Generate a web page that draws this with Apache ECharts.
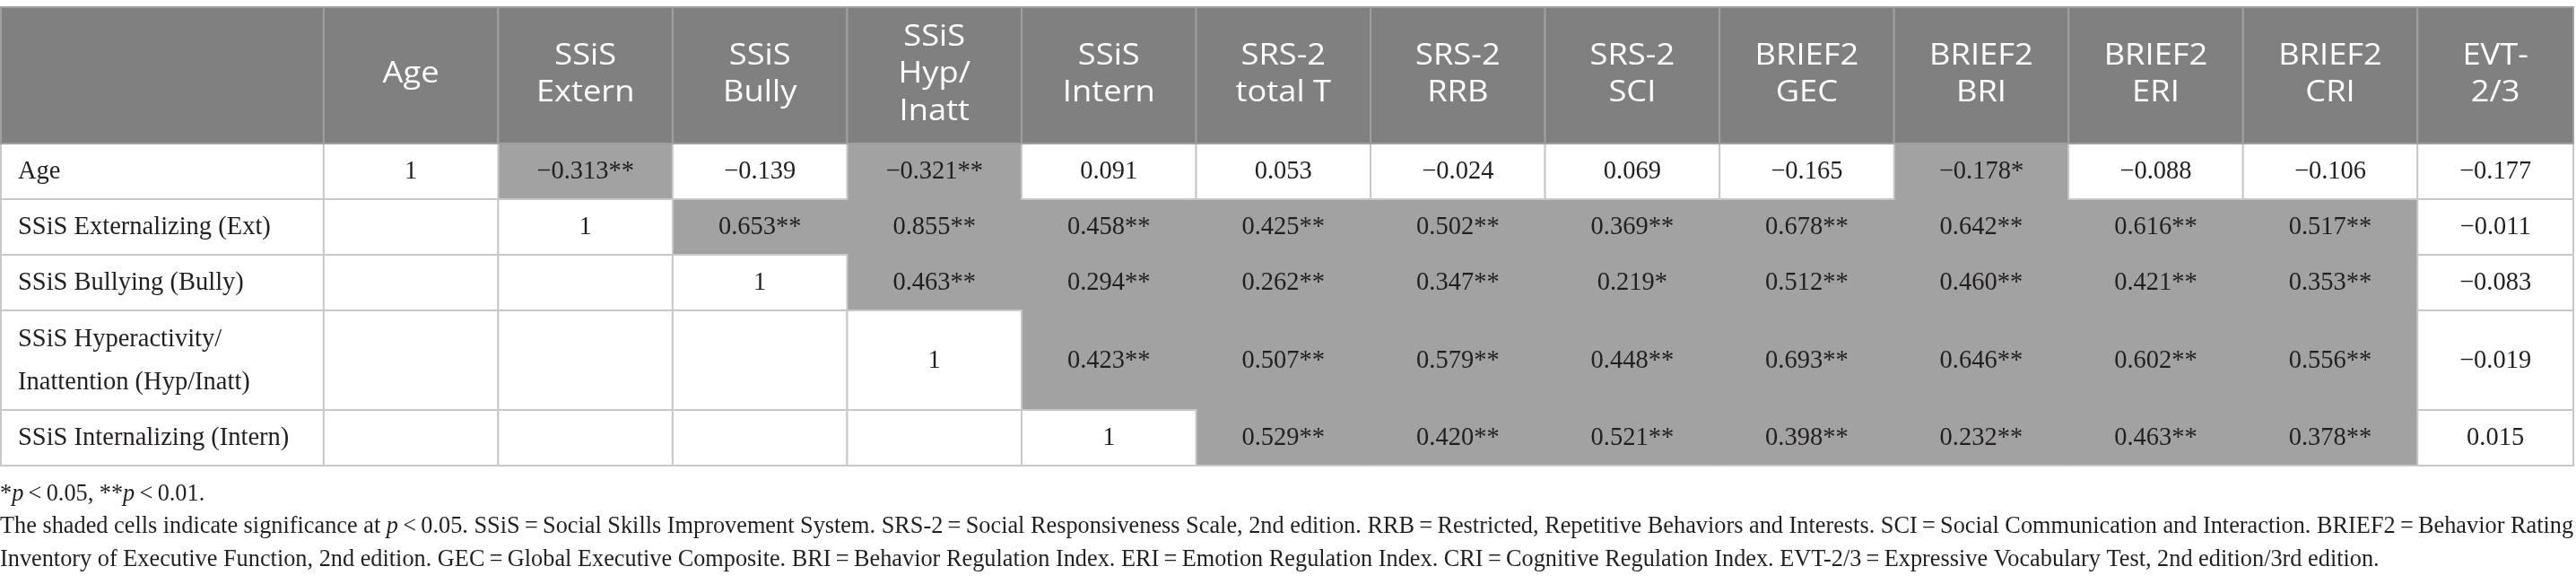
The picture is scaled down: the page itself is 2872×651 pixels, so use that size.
<!DOCTYPE html>
<html>
<head>
<meta charset="utf-8">
<script src="https://cdn.jsdelivr.net/npm/echarts@6/dist/echarts.min.js"></script>
<style>
html,body{margin:0;padding:0;background:#fff;}
#chart{width:2872px;height:651px;}
</style>
</head>
<body>
<div id="chart"></div>
<script>
// ---------- DATA ----------
const columnHeaders = ['Age', 'SSiS\nExtern', 'SSiS\nBully', 'SSiS\nHyp/\nInatt', 'SSiS\nIntern',
  'SRS-2\ntotal T', 'SRS-2\nRRB', 'SRS-2\nSCI', 'BRIEF2\nGEC', 'BRIEF2\nBRI', 'BRIEF2\nERI', 'BRIEF2\nCRI', 'EVT-\n2/3'];
const rowLabels = ['Age', 'SSiS Externalizing (Ext)', 'SSiS Bullying (Bully)',
  'SSiS Hyperactivity/\nInattention (Hyp/Inatt)', 'SSiS Internalizing (Intern)'];

const rAge    = [1, -0.313, -0.139, -0.321, 0.091, 0.053, -0.024, 0.069, -0.165, -0.178, -0.088, -0.106, -0.177];
const sigAge  = [0, 2, 0, 2, 0, 0, 0, 0, 0, 1, 0, 0, 0];
const rExt    = [null, 1, 0.653, 0.855, 0.458, 0.425, 0.502, 0.369, 0.678, 0.642, 0.616, 0.517, -0.011];
const sigExt  = [0, 0, 2, 2, 2, 2, 2, 2, 2, 2, 2, 2, 0];
const rBully  = [null, null, 1, 0.463, 0.294, 0.262, 0.347, 0.219, 0.512, 0.460, 0.421, 0.353, -0.083];
const sigBully= [0, 0, 0, 2, 2, 2, 2, 1, 2, 2, 2, 2, 0];
const rHyp    = [null, null, null, 1, 0.423, 0.507, 0.579, 0.448, 0.693, 0.646, 0.602, 0.556, -0.019];
const sigHyp  = [0, 0, 0, 0, 2, 2, 2, 2, 2, 2, 2, 2, 0];
const rIntern = [null, null, null, null, 1, 0.529, 0.420, 0.521, 0.398, 0.232, 0.463, 0.378, 0.015];
const sigIntern=[0, 0, 0, 0, 0, 2, 2, 2, 2, 2, 2, 2, 0];

const footnotes = [
  '{n|*}{i|p}{n|\u2009<\u20090.05, **}{i|p}{n|\u2009<\u20090.01.}',
  '{n|The shaded cells indicate significance at }{i|p}{n|\u2009<\u20090.05. SSiS\u2009=\u2009Social Skills Improvement System. SRS-2\u2009=\u2009Social Responsiveness Scale, 2nd edition. RRB\u2009=\u2009Restricted, Repetitive Behaviors and Interests. SCI\u2009=\u2009Social Communication and Interaction. BRIEF2\u2009=\u2009Behavior Rating}',
  '{n|Inventory of Executive Function, 2nd edition. GEC\u2009=\u2009Global Executive Composite. BRI\u2009=\u2009Behavior Regulation Index. ERI\u2009=\u2009Emotion Regulation Index. CRI\u2009=\u2009Cognitive Regulation Index. EVT-2/3\u2009=\u2009Expressive Vocabulary Test, 2nd edition/3rd edition.}'
];

// ---------- LAYOUT (sizes / styles) ----------
const colW = [360, 194.6, 194.6, 194.6, 194.6, 194.6, 194.6, 194.6, 194.6, 194.6, 194.6, 194.6, 194.6, 173.8];
const rowH = [152, 62, 62, 62, 111, 62];
const colX = [0]; colW.forEach(w => colX.push(colX[colX.length - 1] + w));
const rowY = [0]; rowH.forEach(h => rowY.push(rowY[rowY.length - 1] + h));
const totalW = colX[colX.length - 1];
const totalH = rowY[rowY.length - 1];

const HEADER_BG = '#7f807f', SHADE_BG = '#a1a2a1', LINE = '#c8c8c8', HEADER_LINE = '#9f9f9f';
const SERIF = '"Liberation Serif", "DejaVu Serif", serif';
const SANS = '"Open Sans", "Noto Sans", sans-serif';
const TEXT = '#231f20';
const CELL_FS = 28.5, NOTE_FS = 26.3, HEAD_FS = 33;

// ---------- BUILD CELLS ----------
const valueRows = [rAge, rExt, rBully, rHyp, rIntern];
const sigRows = [sigAge, sigExt, sigBully, sigHyp, sigIntern];
function fmt(v, s) {
  if (v === null || v === undefined) return '';
  if (v === 1) return '1';
  const t = (v < 0 ? '\u2212' : '') + Math.abs(v).toFixed(3);
  return t + '*'.repeat(s);
}

const headerCells = [], whiteCells = [], shadedCells = [];
headerCells.push({ value: [0, 0], text: '' });
columnHeaders.forEach((h, i) => headerCells.push({ value: [i + 1, 0], text: h }));
rowLabels.forEach((lab, r) => {
  whiteCells.push({ value: [0, r + 1], text: lab, kind: 'label' });
  valueRows[r].forEach((v, c) => {
    const cell = { value: [c + 1, r + 1], text: fmt(v, sigRows[r][c]), kind: 'num' };
    if (sigRows[r][c] > 0) shadedCells.push(cell); else whiteCells.push(cell);
  });
});

function rectOf(api, c, r) {
  const p0 = api.coord([colX[c], rowY[r]]);
  const p1 = api.coord([colX[c + 1], rowY[r + 1]]);
  return { x: p0[0], y: p0[1], width: p1[0] - p0[0], height: p1[1] - p0[1] };
}

function makeRender(cells, mode) {
  return function (params, api) {
    const cell = cells[params.dataIndex];
    const c = api.value(0), r = api.value(1);
    const rc = rectOf(api, c, r);
    let rectStyle, textEl;
    if (mode === 'header') {
      rectStyle = { fill: HEADER_BG, stroke: HEADER_LINE, lineWidth: 2 };
      textEl = {
        type: 'text',
        x: rc.x + rc.width / 2, y: rc.y + rc.height / 2 - 1,
        scaleX: 1.1,
        style: {
          text: cell.text, x: 0, y: 0,
          align: 'center', verticalAlign: 'middle',
          fontFamily: SANS, fontSize: HEAD_FS, lineHeight: 41.5, fill: '#ffffff'
        }
      };
    } else {
      rectStyle = mode === 'shaded'
        ? { fill: SHADE_BG, stroke: null, lineWidth: 0 }
        : { fill: '#ffffff', stroke: LINE, lineWidth: 2 };
      const isLabel = cell.kind === 'label';
      textEl = {
        type: 'text',
        style: {
          text: cell.text,
          x: isLabel ? rc.x + 19 : rc.x + rc.width / 2,
          y: rc.y + rc.height / 2 + 1,
          align: isLabel ? 'left' : 'center', verticalAlign: 'middle',
          fontFamily: SERIF, fontSize: CELL_FS, lineHeight: 48, fill: TEXT
        }
      };
    }
    const rect = { type: 'rect', shape: mode === 'shaded'
      ? { x: rc.x - 0.5, y: rc.y - 0.5, width: rc.width + 1, height: rc.height + 1 } : rc, style: rectStyle };
    return { type: 'group', children: [rect, textEl] };
  };
}

const chart = echarts.init(document.getElementById('chart'), null, { renderer: 'canvas' });
chart.setOption({
  animation: false,
  backgroundColor: '#ffffff',
  grid: { left: 1, top: 8, width: totalW - 1, height: totalH },
  xAxis: { type: 'value', min: 0, max: totalW, show: false },
  yAxis: { type: 'value', min: 0, max: totalH, inverse: true, show: false },
  series: [
    { type: 'custom', name: 'shaded', coordinateSystem: 'cartesian2d', z: 1, clip: false,
      data: shadedCells.map(d => d.value), renderItem: makeRender(shadedCells, 'shaded') },
    { type: 'custom', name: 'white', coordinateSystem: 'cartesian2d', z: 2, clip: false,
      data: whiteCells.map(d => d.value), renderItem: makeRender(whiteCells, 'white') },
    { type: 'custom', name: 'frame', coordinateSystem: 'cartesian2d', z: 2, clip: false,
      data: [[0, rowH.length]],
      renderItem: function (params, api) {
        const p0 = api.coord([0, rowY[1]]);
        const p1 = api.coord([totalW, totalH]);
        return { type: 'rect', shape: { x: p0[0], y: p0[1], width: p1[0] - p0[0], height: p1[1] - p0[1] },
          style: { fill: null, stroke: LINE, lineWidth: 2 } };
      } },
    { type: 'custom', name: 'header', coordinateSystem: 'cartesian2d', z: 3, clip: false,
      data: headerCells.map(d => d.value), renderItem: makeRender(headerCells, 'header') }
  ],
  graphic: footnotes.map((t, i) => ({
    type: 'text', left: 0, top: 538 + i * 36.5,
    style: {
      text: t,
      rich: {
        n: { fontFamily: SERIF, fontSize: NOTE_FS, fill: TEXT },
        i: { fontFamily: SERIF, fontSize: NOTE_FS, fontStyle: 'italic', fill: TEXT }
      }
    }
  }))
});
</script>
</body>
</html>
